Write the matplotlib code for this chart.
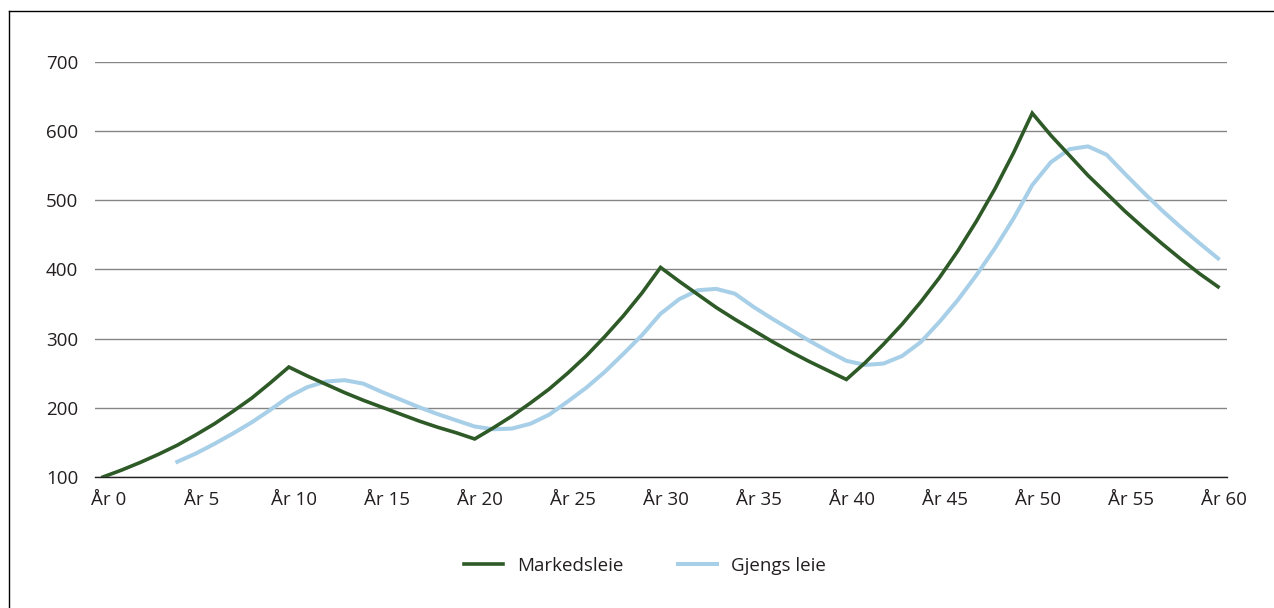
import matplotlib
matplotlib.use("Agg")
import matplotlib.pyplot as plt
from matplotlib.lines import Line2D

plt.rcParams['font.family'] = ['Open Sans', 'DejaVu Sans']

# Years 0..60
years = list(range(0, 61))

# Markedsleie (market rent)
markedsleie = [100, 110, 121, 133, 146, 161, 177, 195, 214, 236,
               259, 246, 234, 222, 211, 201, 191, 181, 172, 164,
               155, 171, 188, 207, 227, 250, 275, 303, 333, 366,
               403, 383, 364, 345, 328, 312, 296, 281, 267, 254,
               241, 265, 292, 321, 353, 388, 427, 470, 517, 569,
               626, 594, 565, 536, 510, 484, 460, 437, 415, 394,
               375]

# Gjengs leie (prevailing rent) starts at year 4
gjengs_years = list(range(4, 61))
gjengs_leie = [122, 134, 148, 163, 179, 197,
               216, 230, 238, 240, 235, 223, 212, 201, 191, 182,
               173, 169, 170, 177, 190, 209, 229, 252, 278, 305,
               336, 357, 370, 372, 365, 346, 329, 313, 297, 282,
               268, 262, 264, 275, 295, 324, 356, 392, 431, 474,
               522, 555, 574, 578, 566, 538, 511, 485, 461, 438,
               416]

xtick_years = list(range(0, 61, 5))
xtick_labels = [f"År {y}" for y in xtick_years]
ytick_values = [100, 200, 300, 400, 500, 600, 700]

green = '#2e5a27'
blue = '#a8cfe8'

fig = plt.figure(figsize=(12.74, 6.08), dpi=100)
ax = fig.add_axes([95 / 1274, 131 / 608, 1132 / 1274, 415 / 608])

ax.plot(years, markedsleie, color=green, lw=2.6, label='Markedsleie',
        solid_joinstyle='miter', zorder=3)
ax.plot(gjengs_years, gjengs_leie, color=blue, lw=2.9, label='Gjengs leie',
        solid_joinstyle='round', zorder=2)

ax.set_xlim(-0.43, 60.48)
ax.set_ylim(100, 700)

ax.set_yticks(ytick_values)
ax.set_yticklabels([str(v) for v in ytick_values])
ax.set_xticks([y + 0.3 for y in xtick_years])
ax.set_xticklabels(xtick_labels)
ax.tick_params(axis='both', length=0, labelsize=13.5, colors='#231f20')
ax.tick_params(axis='y', pad=12)
ax.tick_params(axis='x', pad=10)

ax.grid(axis='y', color='#858585', lw=1.0)
ax.set_axisbelow(True)
for side in ['top', 'right', 'left']:
    ax.spines[side].set_visible(False)
ax.spines['bottom'].set_color('#231f20')
ax.spines['bottom'].set_linewidth(1.0)

leg = ax.legend(loc='center', bbox_to_anchor=(645 / 1274, 42 / 608),
                bbox_transform=fig.transFigure, ncol=2, frameon=False,
                fontsize=13.5, handlelength=2.1, handletextpad=0.75,
                columnspacing=2.9)
for t in leg.get_texts():
    t.set_color('#231f20')

# frame visible on the left and top edges of the image
fig.add_artist(Line2D([8.5 / 1274, 8.5 / 1274], [0, 1 - 11 / 608],
                      transform=fig.transFigure, color='black', lw=1.0))
fig.add_artist(Line2D([8.5 / 1274, 1], [1 - 11 / 608, 1 - 11 / 608],
                      transform=fig.transFigure, color='black', lw=1.0))

fig.savefig('out.png', dpi=100)
